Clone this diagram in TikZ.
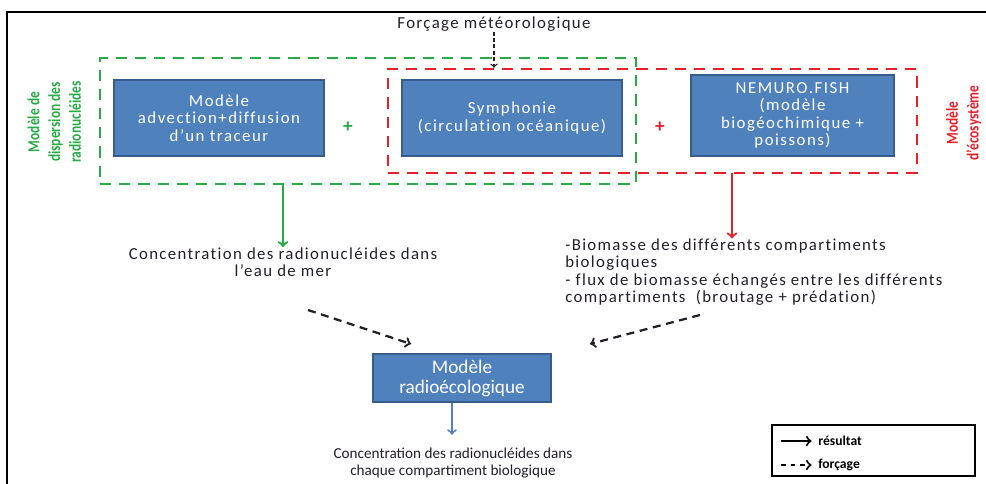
\documentclass[tikz,border=0pt]{standalone}
\usepackage{fontspec}
\setmainfont{Carlito}
\newfontfamily\txtfont[LetterSpace=8,Ligatures=NoCommon]{Carlito}
\newfontfamily\mdlfont[LetterSpace=9,Ligatures=NoCommon]{Carlito}
\usepackage{graphicx}
\usepackage{tikz}
\usepackage{xcolor}
\definecolor{boxblue}{RGB}{79,129,189}
\definecolor{boxedge}{RGB}{56,93,138}
\definecolor{dispgreen}{RGB}{40,170,70}
\definecolor{ecored}{RGB}{232,32,42}
\definecolor{ink}{RGB}{35,30,40}

\begin{document}
\begin{tikzpicture}[x=0.625pt,y=-0.625pt,>=to,
  model/.style={draw=boxedge,line width=0.9pt,fill=boxblue,text=white,align=center,font=\mdlfont\fontsize{10.5}{10.8}\selectfont,inner sep=0pt},
  zone/.style={draw,line width=1.6pt,dash pattern=on 7pt off 5pt,inner sep=0pt},
  txt/.style={text=ink,align=center,font=\txtfont\fontsize{10.5}{10.8}\selectfont,inner sep=0pt},
  sidelab/.style={rotate=90,inner sep=0pt,font=\bfseries\fontsize{10.5}{13}\selectfont},
  forcing/.style={->,ink,line width=1.4pt,dash pattern=on 5pt off 3.5pt},
  result/.style={->,line width=1.4pt}]
\useasboundingbox (0,0) rectangle (986,484);
\draw[line width=1.3pt] (7,484) |- (986,12);
% zones
\node[zone,dispgreen,minimum width=335pt,minimum height=78.75pt] (disp) at (368,121) {};
\node[zone,ecored,minimum width=330.6pt,minimum height=65pt] (eco) at (652.5,121) {};
\node[sidelab,dispgreen] (displab) at (56,122) {\scalebox{0.8}[1]{\begin{tabular}{@{}c@{}}Modèle de\\dispersion des\\radionucléides\end{tabular}}};
\node[sidelab,ecored] (ecolab) at (964,123) {\scalebox{0.8}[1]{\begin{tabular}{@{}c@{}}Modèle\\d’écosystème\end{tabular}}};
% models
\node[model,minimum width=131.25pt,minimum height=47.5pt] (trac) at (219,118) {Modèle\\advection+diffusion\\d’un traceur};
\node[model,minimum width=137.5pt,minimum height=47.5pt] (symph) at (512,118) {Symphonie\\(circulation océanique)};
\node[model,minimum width=126.9pt,minimum height=50.6pt] (nemuro) at (792.5,115.5) {NEMURO.FISH\\(modèle\\biogéochimique +\\poissons)};
\node[model,minimum width=111.25pt,minimum height=30pt,font=\fontsize{12}{12.5}\selectfont] (radio) at (462,378) {Modèle\\radioécologique};
\node[dispgreen,font=\bfseries\large] (plusA) at (348,127) {+};
\node[ecored,font=\bfseries\large] (plusB) at (660,127) {+};
% texts
\node[txt] (forc) at (494,24) {Forçage météorologique};
\node[txt] (resA) at (283,262) {Concentration des radionucléides dans\\l’eau de mer};
\node[txt,align=left,anchor=west] (bio) at (565,272) {-Biomasse des différents compartiments\\biologiques\\- flux de biomasse échangés entre les différents\\compartiments~ (broutage + prédation)};
\node[txt,font=\fontsize{9.5}{10.6}\selectfont] (resC) at (453,463) {Concentration des radionucléides dans\\chaque compartiment biologique};
% connectors
\draw[forcing,line width=0.8pt,dash pattern=on 2.5pt off 1.5pt] (forc) -- (forc |- eco.north);
\draw[result,dispgreen] (disp.south -| resA) -- (resA.north);
\coordinate (ecoout) at (732,173);
\draw[result,ecored] (ecoout) -- (ecoout |- bio.north);
\coordinate (fA) at (308,310); \coordinate (inA) at (411,344);
\coordinate (fB) at (700,315); \coordinate (inB) at (590,344);
\draw[forcing] (fA) -- (inA);
\draw[forcing] (fB) -- (inB);
\coordinate (radout) at (radio.south -| 452,0);
\draw[result,boxblue,line width=1.2pt] (radout) -- ++(0,32);
% legend
\node[draw,line width=1.2pt,minimum width=126.9pt,minimum height=31.9pt,inner sep=0pt] (legend) at (873.5,450.5) {};
\foreach \nm/\st/\yy/\lab in {res/solid/441/résultat,frc/dashed/465/forçage} {
  \coordinate (l\nm) at (781,\yy);
  \node[anchor=west,font=\bfseries\fontsize{8.5}{9}\selectfont,inner sep=0pt] (t\nm) at (818,\yy) {\lab};
  \draw[->,line width=1.3pt,\st] (l\nm) -- ([xshift=-4pt]t\nm.west);}
\end{tikzpicture}
\end{document}
